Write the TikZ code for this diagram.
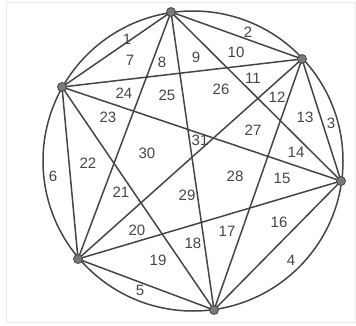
\documentclass[tikz,border=0pt]{standalone}
\usepackage{fontspec}
\setmainfont{Liberation Sans}
\definecolor{ln}{HTML}{454545}
\definecolor{dotfill}{HTML}{7A7A7A}
\definecolor{frame}{HTML}{EBEBEB}
\tikzset{
  pt/.style={circle,inner sep=0pt,minimum size=9pt,fill=dotfill,draw=ln,line width=0.8pt},
  chord/.style={draw=ln,line width=1.5pt},
  lab/.style={inner sep=0pt,text=ln,font=\fontsize{15}{15}\selectfont}
}
\begin{document}
\begin{tikzpicture}[x=1pt,y=-1pt]
\useasboundingbox (0,0) rectangle (356,326);
\draw[frame,line width=1pt] (6,2.5) rectangle (355,322);
\coordinate (O) at (193,161);
\draw[chord] (O) circle[radius=150];
\coordinate (A) at (171,12);
\coordinate (B) at (302,59);
\coordinate (C) at (341,181);
\coordinate (D) at (214,310);
\coordinate (E) at (78,259);
\coordinate (F) at (62,87);
\foreach \p/\q in {A/B,A/C,A/D,A/E,A/F,B/C,B/D,B/E,B/F,C/D,C/E,C/F,D/E,D/F,E/F}
  \draw[chord] (\p) -- (\q);
\foreach \p in {A,B,C,D,E,F}
  \node[pt] (n\p) at (\p) {};
\node[lab] (l1) at (127,39) {1};
\node[lab] (l2) at (248,32) {2};
\node[lab] (l3) at (331,123) {3};
\node[lab] (l4) at (291,260) {4};
\node[lab] (l5) at (140,290) {5};
\node[lab] (l6) at (53,176) {6};
\node[lab] (l7) at (130,60) {7};
\node[lab] (l8) at (162,62) {8};
\node[lab] (l9) at (196,57) {9};
\node[lab] (l10) at (236,52) {10};
\node[lab] (l11) at (253,78) {11};
\node[lab] (l12) at (277,97) {12};
\node[lab] (l13) at (305,117) {13};
\node[lab] (l14) at (296,152) {14};
\node[lab] (l15) at (282,178) {15};
\node[lab] (l16) at (279,222) {16};
\node[lab] (l17) at (227,231) {17};
\node[lab] (l18) at (193,243) {18};
\node[lab] (l19) at (158,260) {19};
\node[lab] (l20) at (137,230) {20};
\node[lab] (l21) at (121,192) {21};
\node[lab] (l22) at (88,163) {22};
\node[lab] (l23) at (108,117) {23};
\node[lab] (l24) at (124,93) {24};
\node[lab] (l25) at (167,95) {25};
\node[lab] (l26) at (221,89) {26};
\node[lab] (l27) at (253,130) {27};
\node[lab] (l28) at (235,176) {28};
\node[lab] (l29) at (187,195) {29};
\node[lab] (l30) at (147,153) {30};
\node[lab] (l31) at (200,140) {31};
\end{tikzpicture}
\end{document}
